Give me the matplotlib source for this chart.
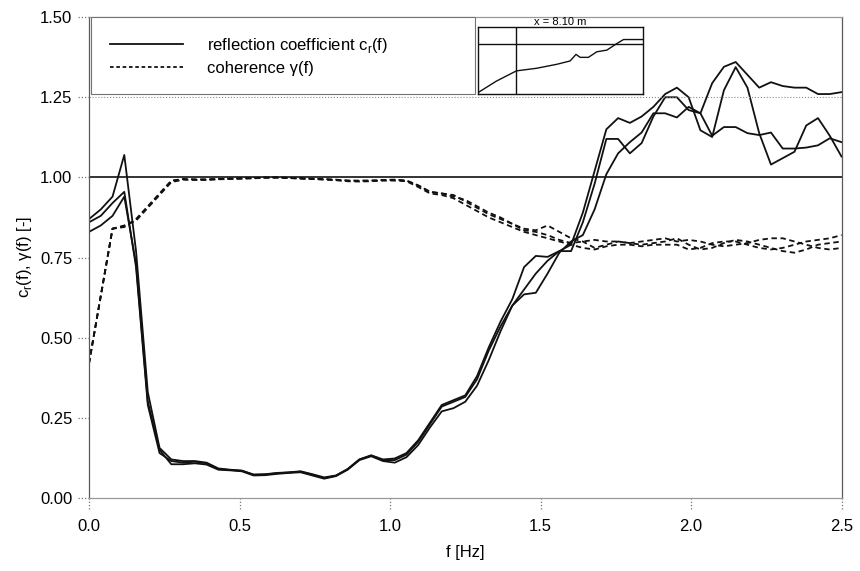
import numpy as np
import matplotlib
matplotlib.use("Agg")
import matplotlib.pyplot as plt
import matplotlib.transforms as mtransforms
from matplotlib.lines import Line2D

plt.rcParams['font.family'] = ['Liberation Sans', 'DejaVu Sans']

# frequency grid (FFT bins, df = 2.5/64 Hz)
freq = np.arange(65) * (2.5 / 64)

# reflection coefficient c_r(f), three records
refl_1 = [0.87, 0.90, 0.94, 1.07, 0.77, 0.33, 0.156, 0.12, 0.115, 0.115,
          0.11, 0.092, 0.088, 0.085, 0.073, 0.074, 0.078, 0.080, 0.083, 0.074,
          0.064, 0.070, 0.090, 0.120, 0.133, 0.120, 0.123, 0.140, 0.180, 0.235,
          0.290, 0.305, 0.320, 0.380, 0.470, 0.550, 0.620, 0.720, 0.755, 0.752,
          0.770, 0.790, 0.890, 1.020, 1.150, 1.185, 1.170, 1.190, 1.220, 1.260,
          1.280, 1.250, 1.147, 1.126, 1.272, 1.344, 1.280, 1.138, 1.040, 1.060,
          1.080, 1.162, 1.185, 1.130, 1.065]
refl_2 = [0.86, 0.88, 0.92, 0.955, 0.72, 0.29, 0.14, 0.115, 0.11, 0.113,
          0.108, 0.090, 0.087, 0.085, 0.072, 0.073, 0.077, 0.079, 0.082, 0.072,
          0.062, 0.069, 0.090, 0.120, 0.132, 0.118, 0.118, 0.135, 0.175, 0.230,
          0.285, 0.300, 0.315, 0.370, 0.460, 0.535, 0.600, 0.650, 0.700, 0.740,
          0.770, 0.770, 0.860, 0.980, 1.120, 1.120, 1.075, 1.107, 1.190, 1.250,
          1.250, 1.210, 1.200, 1.294, 1.345, 1.360, 1.320, 1.280, 1.297, 1.285,
          1.280, 1.280, 1.260, 1.260, 1.266]
refl_3 = [0.83, 0.85, 0.88, 0.94, 0.73, 0.30, 0.15, 0.105, 0.105, 0.108,
          0.104, 0.088, 0.086, 0.083, 0.070, 0.071, 0.075, 0.078, 0.080, 0.070,
          0.060, 0.068, 0.088, 0.118, 0.130, 0.115, 0.110, 0.127, 0.165, 0.220,
          0.270, 0.280, 0.300, 0.350, 0.430, 0.520, 0.600, 0.635, 0.640, 0.700,
          0.765, 0.800, 0.820, 0.900, 1.010, 1.075, 1.110, 1.140, 1.200, 1.200,
          1.187, 1.220, 1.200, 1.130, 1.157, 1.157, 1.138, 1.132, 1.140, 1.090,
          1.090, 1.093, 1.100, 1.122, 1.110]

# coherence gamma(f), three records
coh_1 = [0.42, 0.63, 0.84, 0.845, 0.87, 0.91, 0.95, 0.99, 0.995, 0.994,
         0.993, 0.995, 0.996, 0.997, 0.998, 1.0, 1.0, 0.999, 0.997, 0.996,
         0.995, 0.993, 0.99, 0.99, 0.99, 0.992, 0.993, 0.99, 0.975, 0.955,
         0.95, 0.94, 0.93, 0.91, 0.89, 0.875, 0.855, 0.84, 0.835, 0.85,
         0.83, 0.81, 0.80, 0.78, 0.79, 0.80, 0.795, 0.79, 0.795, 0.80,
         0.81, 0.79, 0.775, 0.78, 0.795, 0.805, 0.80, 0.79, 0.78, 0.77,
         0.765, 0.775, 0.79, 0.795, 0.80]
coh_2 = [0.42, 0.63, 0.84, 0.85, 0.865, 0.905, 0.945, 0.985, 0.993, 0.992,
         0.992, 0.994, 0.995, 0.996, 0.997, 0.999, 0.999, 0.998, 0.996, 0.995,
         0.993, 0.991, 0.988, 0.987, 0.988, 0.99, 0.99, 0.988, 0.97, 0.95,
         0.945, 0.935, 0.915, 0.895, 0.875, 0.86, 0.845, 0.83, 0.82, 0.81,
         0.80, 0.79, 0.78, 0.775, 0.785, 0.79, 0.79, 0.785, 0.79, 0.79,
         0.79, 0.775, 0.78, 0.795, 0.80, 0.80, 0.79, 0.78, 0.775, 0.78,
         0.79, 0.80, 0.805, 0.81, 0.82]
coh_3 = [0.42, 0.63, 0.84, 0.848, 0.868, 0.908, 0.948, 0.988, 0.994, 0.993,
         0.994, 0.995, 0.996, 0.997, 0.998, 0.999, 1.0, 0.998, 0.997, 0.995,
         0.994, 0.992, 0.99, 0.989, 0.99, 0.991, 0.992, 0.99, 0.975, 0.955,
         0.95, 0.945, 0.925, 0.905, 0.885, 0.87, 0.855, 0.835, 0.83, 0.82,
         0.805, 0.795, 0.80, 0.805, 0.80, 0.80, 0.795, 0.80, 0.805, 0.81,
         0.80, 0.805, 0.80, 0.79, 0.785, 0.79, 0.795, 0.805, 0.81, 0.81,
         0.80, 0.79, 0.78, 0.775, 0.78]

# ticks
xticks = [0.0, 0.5, 1.0, 1.5, 2.0, 2.5]
xtick_labels = ["0.0", "0.5", "1.0", "1.5", "2.0", "2.5"]
yticks = [0.0, 0.25, 0.5, 0.75, 1.0, 1.25, 1.5]
ytick_labels = ["0.00", "0.25", "0.50", "0.75", "1.00", "1.25", "1.50"]

# inset: bottom profile (normalised)
profile_x = [0.0, 0.11, 0.213, 0.233, 0.355, 0.477, 0.558, 0.594, 0.619,
             0.669, 0.72, 0.781, 0.842, 0.882, 0.923, 1.0]
profile_y = [0.02, 0.19, 0.32, 0.345, 0.384, 0.443, 0.493, 0.591, 0.547,
             0.547, 0.63, 0.655, 0.754, 0.813, 0.813, 0.813]
inset_title = "x = 8.10 m"

fig = plt.figure(figsize=(8.6, 5.71), dpi=100)
ax = fig.add_axes([0.1035, 0.128, 0.875, 0.842])

dash = (0, (3, 2))
for r in [refl_1, refl_2, refl_3]:
    ax.plot(freq, r, color='#111111', lw=1.3)
for c in [coh_1, coh_2, coh_3]:
    ax.plot(freq, c, color='#111111', lw=1.3, ls=dash)

ax.axhline(1.0, color='#111111', lw=1.2)
ax.axhline(1.25, color='0.55', lw=0.8, ls=':')

ax.set_xlim(0, 2.5)
ax.set_ylim(0, 1.5)
ax.set_xticks(xticks)
ax.set_xticklabels(xtick_labels)
ax.set_yticks(yticks)
ax.set_yticklabels(ytick_labels)
ax.tick_params(length=0, labelsize=12)
ax.tick_params(axis='y', pad=12)
ax.tick_params(axis='x', pad=15)

# dotted tick marks sticking out of the frame
ytr = mtransforms.blended_transform_factory(ax.transAxes, ax.transData)
for y in yticks:
    ax.plot([-0.014, 0], [y, y], transform=ytr, ls=':', lw=0.9,
            color='0.45', clip_on=False)
xtr = mtransforms.blended_transform_factory(ax.transData, ax.transAxes)
for x in xticks:
    ax.plot([x, x], [-0.024, 0], transform=xtr, ls=':', lw=0.9,
            color='0.45', clip_on=False)

for s in ax.spines.values():
    s.set_color('0.35')
    s.set_linewidth(0.9)
ax.spines['top'].set_color('0.6')
ax.spines['bottom'].set_color('0.6')

ax.set_xlabel("f [Hz]", fontsize=12, labelpad=8)
ax.set_ylabel("c$_\\mathregular{r}$(f), γ(f) [-]", fontsize=12, labelpad=4)

handles = [Line2D([], [], color='#111111', lw=1.3),
           Line2D([], [], color='#111111', lw=1.3, ls=(0, (2, 1.5)))]
labels = ["reflection coefficient c$_\\mathregular{r}$(f)", "coherence γ(f)"]
leg = ax.legend(handles, labels, loc='upper left',
                bbox_to_anchor=(0.003, 1.0, 0.51, 0.0), mode='expand',
                borderaxespad=0, fontsize=12, handlelength=4.4,
                handletextpad=1.4, borderpad=1.12, labelspacing=0.35,
                fancybox=False, framealpha=1, edgecolor='0.45')
leg.get_frame().set_linewidth(0.8)

# inset with the profile
axi = fig.add_axes([0.5558, 0.8354, 0.1919, 0.1173])
axi.plot(profile_x, profile_y, color='#111111', lw=1.0)
axi.axhline(0.746, color='#111111', lw=1.0)
axi.axvline(0.23, color='#111111', lw=1.0)
axi.set_xlim(0, 1)
axi.set_ylim(0, 1)
axi.set_xticks([])
axi.set_yticks([])
for s in axi.spines.values():
    s.set_color('#111111')
    s.set_linewidth(1.0)
axi.set_title(inset_title, fontsize=8, pad=1.5)

plt.savefig("out.png", dpi=100)
